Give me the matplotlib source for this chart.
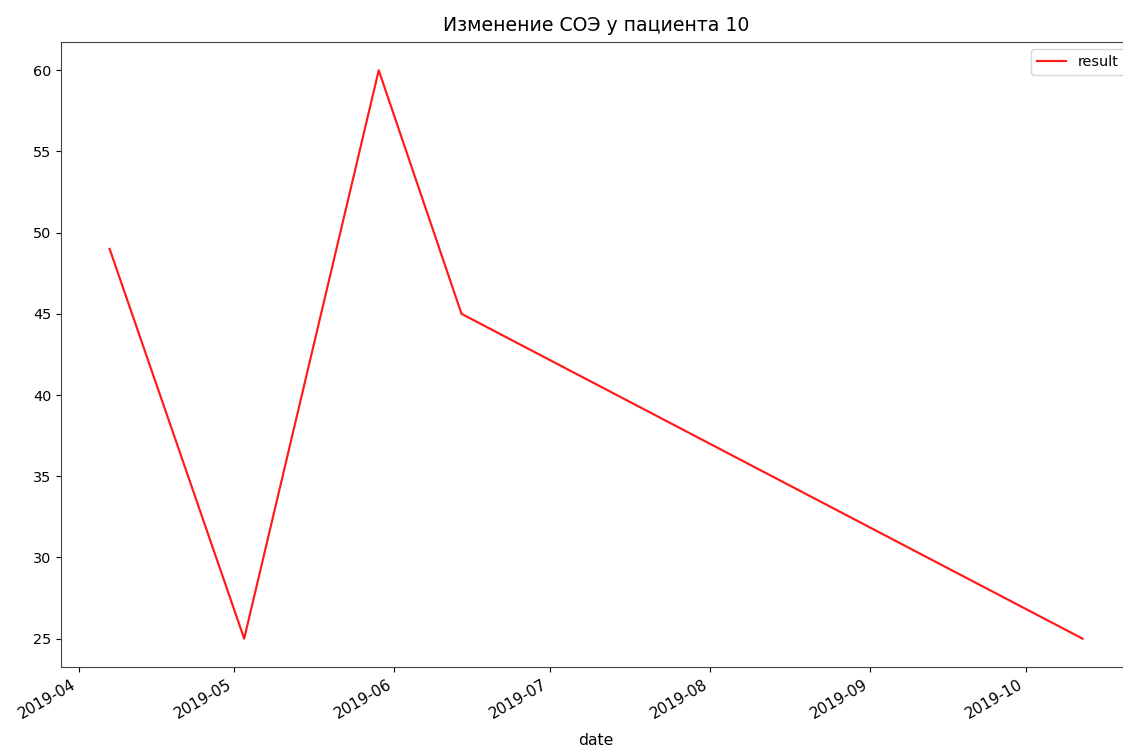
import pandas as pd
import matplotlib
matplotlib.use("Agg")
import matplotlib.pyplot as plt
import matplotlib.dates as mdates

# data
dates = ["2019-04-07", "2019-05-03", "2019-05-29", "2019-06-14", "2019-10-12"]
results = [49, 25, 60, 45, 25]
title = "Изменение СОЭ у пациента 10"

plt.rcParams["font.size"] = 10.4

df = pd.DataFrame({"date": pd.to_datetime(dates), "result": results})

fig = plt.figure(figsize=(11.23, 7.47), dpi=100)
# the original image is cropped on the right, so the axes run past the edge
ax = fig.add_axes([0.0543, 0.107, 0.953, 0.837])
ax.plot(df["date"], df["result"], color="red", linewidth=1.56, alpha=0.9,
        label="result")

ax.xaxis.set_major_locator(mdates.MonthLocator())
ax.xaxis.set_major_formatter(mdates.DateFormatter("%Y-%m"))
for lbl in ax.get_xticklabels():
    lbl.set_rotation(30)
    lbl.set_ha("right")
    lbl.set_fontsize(11)

for sp in ax.spines.values():
    sp.set_color("#444444")

ax.set_xlabel("date", fontsize=11.3, labelpad=8)
ax.set_title(title, fontsize=13.6, pad=8)
ax.legend(loc="upper right")

fig.savefig("out.png", dpi=100)
